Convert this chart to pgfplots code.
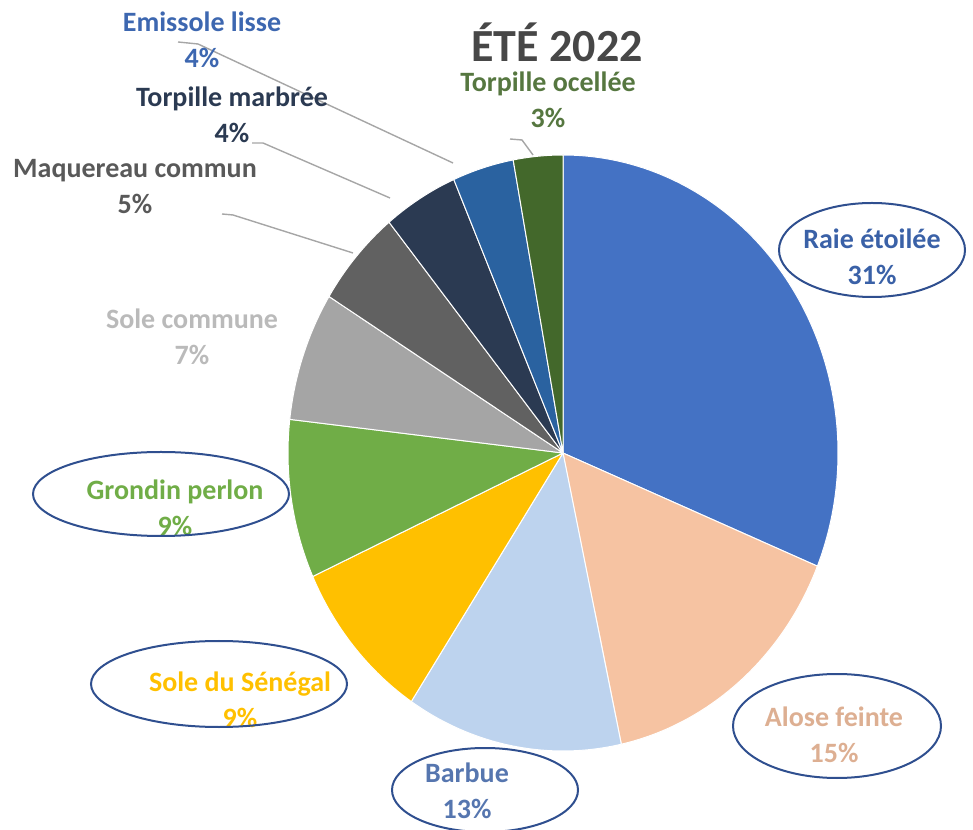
\documentclass[border=0pt]{standalone}
\usepackage{pgfplots}
\usepackage{pgfplotstable}
\pgfplotsset{compat=1.18}
\usepackage{fontspec}
\setmainfont{Carlito}

\definecolor{c0}{HTML}{4472C4}
\definecolor{c1}{HTML}{F6C3A2}
\definecolor{c2}{HTML}{BDD3EE}
\definecolor{c3}{HTML}{FFC000}
\definecolor{c4}{HTML}{70AD47}
\definecolor{c5}{HTML}{A5A5A5}
\definecolor{c6}{HTML}{616161}
\definecolor{c7}{HTML}{2B3A52}
\definecolor{c8}{HTML}{2A62A0}
\definecolor{c9}{HTML}{43682B}
\definecolor{ringc}{HTML}{2F4F8F}
\definecolor{leadc}{HTML}{A6A6A6}

\pgfplotstableread{
name value
Raie 31.2
Alose 15.4
Barbue 12.7
SoleSenegal 8.9
Grondin 8.6
SoleCommune 7.0
Maquereau 5.3
TorpilleMarbree 4.4
Emissole 3.6
TorpilleOcellee 2.9
}\piedata

\newcommand{\lab}[3]{\node[text=#1, font=\fontsize{14}{18}\selectfont\bfseries, align=center] at (axis cs:#2) {#3};}

\begin{document}
\begin{tikzpicture}
\clip (0,0) rectangle (486.5pt,414.5pt);
\begin{axis}[scale only axis, width=486.5pt, height=414.5pt,
  xmin=0, xmax=973, ymin=0, ymax=829, hide axis, clip=false,
  at={(0,0)}, anchor=south west]
\def\cum{0}
\pgfplotsforeachungrouped \i in {0,...,9}{
  \pgfplotstablegetelem{\i}{value}\of\piedata
  \let\v\pgfplotsretval
  \pgfmathsetmacro{\sa}{90-3.6*\cum}
  \pgfmathsetmacro{\ea}{90-3.6*(\cum+\v)}
  \pgfmathsetmacro{\cum}{\cum+\v}
  \edef\temp{\noexpand\fill[c\i, draw=white, line width=0.5pt, line join=round] (axis cs:563,376) -- ++(\sa:137.5pt and 149pt) arc[start angle=\sa, end angle=\ea, x radius=137.5pt, y radius=149pt] -- cycle;}
  \temp
}
% leader lines
\draw[leadc, line width=0.7pt] (axis cs:178,787) -- (axis cs:198,785) -- (axis cs:453,666);
\draw[leadc, line width=0.7pt] (axis cs:252,686) -- (axis cs:263,686) -- (axis cs:390,631);
\draw[leadc, line width=0.7pt] (axis cs:222,615) -- (axis cs:233,614) -- (axis cs:353,576);
\draw[leadc, line width=0.7pt] (axis cs:510,690) -- (axis cs:522,689) -- (axis cs:533,674);
% title
\node[text=black!72, font=\fontsize{23}{27}\selectfont\bfseries] at (axis cs:557,787) {ÉTÉ 2022};
% labels
\lab{c0!85!black}{872,572}{Raie étoilée\\31\%}
\lab{c1!90!black}{834,94}{Alose feinte\\15\%}
\lab{c0!70!gray}{467,38}{Barbue\\13\%}
\lab{c3}{240,129}{Sole du Sénégal\\9\%}
\lab{c4}{175,321}{Grondin perlon\\9\%}
\lab{black!27}{192,492}{Sole commune\\7\%}
\lab{black!65}{135,642}{Maquereau commun\\5\%}
\lab{c7}{232,714}{Torpille marbrée\\4\%}
\lab{c0!90!black}{202,789}{Emissole lisse\\4\%}
\lab{c9!90!white}{548,729}{Torpille ocellée\\3\%}
% highlight rings
\draw[ringc, line width=1pt] (axis cs:872,579) ellipse [x radius=93pt*0.5, y radius=47pt*0.5];
\draw[ringc, line width=1pt] (axis cs:837,103) ellipse [x radius=104pt*0.5, y radius=52pt*0.5];
\draw[ringc, line width=1pt] (axis cs:485,39) ellipse [x radius=93pt*0.5, y radius=42pt*0.5];
\draw[ringc, line width=1pt] (axis cs:219,145) ellipse [x radius=128pt*0.5, y radius=43pt*0.5];
\draw[ringc, line width=1pt] (axis cs:161,335) ellipse [x radius=128pt*0.5, y radius=42pt*0.5];
\draw[draw=none] (axis cs:0,0) rectangle (axis cs:973,829);
\end{axis}
\end{tikzpicture}
\end{document}
